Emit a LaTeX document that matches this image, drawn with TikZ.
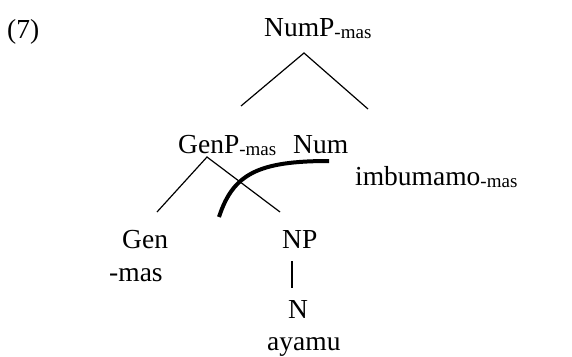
\documentclass[tikz,border=0pt]{standalone}
\usepackage{fontspec}
\setmainfont{Liberation Serif}
\usepackage{tikz}
\newcommand{\lowmas}{\raisebox{-2.5pt}{\fontsize{19}{19}\selectfont -mas}}

\begin{document}
\begin{tikzpicture}[x=1pt, y=-1pt,
    every node/.style={anchor=base west, inner sep=0pt, font=\fontsize{27.5}{32}\selectfont},
    branch/.style={black, line width=1.2pt},
    arc/.style={black, line width=4pt}]
    \useasboundingbox (0,0) rectangle (572,356);
    \node (ex) at (7,38) {(7)};
    % tree labels
    \node (nump) at (264,36) {NumP\lowmas};
    \node (genp) at (178,153) {GenP\lowmas};
    \node (num) at (293,153) {Num};
    \node (numw) at (355,185) {imbumamo\lowmas};
    \node (gen) at (122,248) {Gen};
    \node (genw) at (109,281) {-mas};
    \node (np) at (282,248) {NP};
    \node (n) at (288,318) {N};
    \node (nw) at (267,350) {ayamu};
    % branch ends
    \coordinate (nump-b) at (304,53);
    \coordinate (genp-t) at (241,106);
    \coordinate (num-t) at (368,109);
    \coordinate (genp-b) at (207,157);
    \coordinate (gen-t) at (157,212);
    \coordinate (np-t) at (280,212);
    \coordinate (np-b) at (292,261);
    \coordinate (n-t) at (292,288);
    \draw[branch] (genp-t) -- (nump-b) -- (num-t);
    \draw[branch] (gen-t) -- (genp-b) -- (np-t);
    \draw[branch] (np-b) -- (n-t);
    % movement arc
    \coordinate (arc-s) at (329,161);
    \coordinate (arc-e) at (219,217);
    \draw[arc] (arc-s) .. controls (258,161) and (233,174) .. (arc-e);
\end{tikzpicture}
\end{document}
